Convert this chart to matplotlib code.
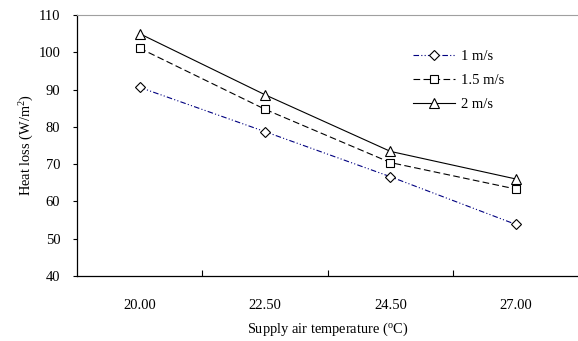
import numpy as np
import matplotlib.pyplot as plt
from matplotlib.ticker import FixedLocator, NullFormatter

plt.rcParams['font.family'] = ['Liberation Serif', 'DejaVu Serif']
plt.rcParams['mathtext.fontset'] = 'custom'
plt.rcParams['mathtext.rm'] = 'Liberation Serif'

temps = ['20.00', '22.50', '24.50', '27.00']
v1 = [90.6, 78.7, 66.6, 53.8]
v15 = [101.1, 84.7, 70.4, 63.3]
v2 = [105.0, 88.6, 73.4, 66.0]

fig = plt.figure(figsize=(5.78, 3.41), dpi=100)
ax = fig.add_axes([0.133, 0.191, 0.868, 0.765])

x = np.arange(len(temps)) + 0.5
ax.plot(x, v1, color='#000080', lw=0.8, dashes=[5, 2, 1, 2, 1, 2],
        marker='D', ms=5, mfc='white', mec='black', mew=0.8, label='1 m/s')
ax.plot(x, v15, color='black', lw=0.8, dashes=[6, 3],
        marker='s', ms=6, mfc='white', mec='black', mew=0.8, label='1.5 m/s')
ax.plot(x, v2, color='black', lw=0.8,
        marker='^', ms=7, mfc='white', mec='black', mew=0.8, label='2 m/s')

ax.set_xlim(0, 4)
ax.set_ylim(40, 110)
ax.set_yticks(range(40, 111, 10))
ax.xaxis.set_major_locator(FixedLocator([1, 2, 3]))
ax.xaxis.set_major_formatter(NullFormatter())
ax.xaxis.set_minor_locator(FixedLocator(x))
ax.set_xticklabels(temps, minor=True)
ax.tick_params(axis='x', which='major', direction='in', length=4, width=0.8)
ax.tick_params(axis='x', which='minor', length=0, pad=17, labelsize=10.5)
ax.tick_params(axis='y', direction='out', length=3, width=0.8, labelsize=10.5, pad=9)

ax.spines['right'].set_visible(False)
ax.spines['top'].set_color('#a0a0a0')
ax.spines['left'].set_linewidth(0.9)
ax.spines['bottom'].set_linewidth(0.9)

ax.set_xlabel(r'Supply air temperature ($\mathregular{^o}$C)', fontsize=10.4, labelpad=6)
ax.set_ylabel(r'Heat loss (W/m$\mathregular{^2}$)', fontsize=10.4, labelpad=2)

ax.legend(loc='upper left', bbox_to_anchor=(0.655, 0.895), frameon=False,
          fontsize=10.5, handlelength=2.9, handletextpad=0.4, labelspacing=0.75,
          borderpad=0)

fig.savefig('out.png', dpi=100)
